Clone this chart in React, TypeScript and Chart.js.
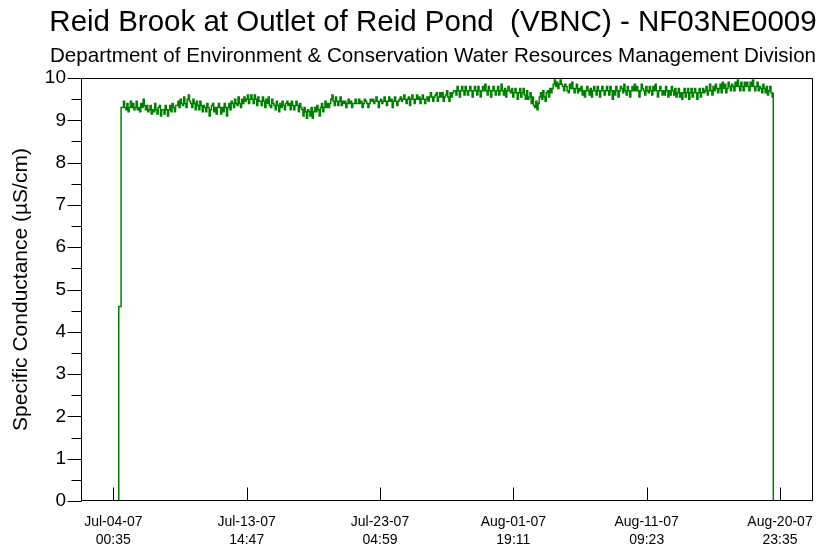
import React, { useEffect, useRef } from "react";
import { Chart, registerables } from "chart.js";

Chart.register(...registerables);

const FONT = "'Liberation Sans', Arial, Helvetica, sans-serif";

const TITLE = "Reid Brook at Outlet of Reid Pond  (VBNC) - NF03NE0009";
const SUBTITLE = "Department of Environment & Conservation Water Resources Management Division";
const Y_TITLE = "Specific Conductance (µS/cm)";

// x-axis tick positions (UTC ms) and their two-line labels
const xTickTimes = [
  Date.UTC(2007, 6, 4, 0, 35),
  Date.UTC(2007, 6, 13, 14, 47),
  Date.UTC(2007, 6, 23, 4, 59),
  Date.UTC(2007, 7, 1, 19, 11),
  Date.UTC(2007, 7, 11, 9, 23),
  Date.UTC(2007, 7, 20, 23, 35),
];
const xTickDates = ["Jul-04-07", "Jul-13-07", "Jul-23-07", "Aug-01-07", "Aug-11-07", "Aug-20-07"];
const xTickClock = ["00:35", "14:47", "04:59", "19:11", "09:23", "23:35"];
const xMin = Date.UTC(2007, 6, 1, 16, 47);
const xMax = Date.UTC(2007, 7, 23, 8, 35);

// y-axis ticks
const yMajorTicks = [0, 1, 2, 3, 4, 5, 6, 7, 8, 9, 10];
const yMinorTicks = [0.5, 1.5, 2.5, 3.5, 4.5, 5.5, 6.5, 7.5, 8.5, 9.5];

// deployment: logger switched on, sensor settling, then 2-hourly readings
const onsetTimes = [Date.UTC(2007, 6, 4, 10, 0), Date.UTC(2007, 6, 4, 10, 0)];
const onsetValues = [0, 4.6];
const seriesStart = Date.UTC(2007, 6, 4, 14, 0);
const stepHours = 2;
const removalTime = Date.UTC(2007, 7, 20, 12, 0);
const removalValue = 0;

// specific conductance, µS/cm, one row per 24 h from Jul-04 14:00
const conductance = [
  9.30, 9.30, 9.45, 9.30, 9.25, 9.40, 9.20, 9.30, 9.45, 9.30, 9.40, 9.25,
  9.30, 9.45, 9.25, 9.30, 9.20, 9.40, 9.30, 9.50, 9.35, 9.25, 9.35, 9.20,
  9.25, 9.35, 9.15, 9.25, 9.20, 9.40, 9.25, 9.15, 9.30, 9.35, 9.10, 9.25,
  9.25, 9.15, 9.35, 9.25, 9.10, 9.25, 9.35, 9.20, 9.40, 9.30, 9.20, 9.35,
  9.35, 9.45, 9.30, 9.50, 9.40, 9.35, 9.55, 9.40, 9.30, 9.50, 9.60, 9.45,
  9.40, 9.30, 9.50, 9.40, 9.25, 9.45, 9.35, 9.25, 9.45, 9.35, 9.20, 9.35,
  9.30, 9.20, 9.40, 9.30, 9.10, 9.25, 9.35, 9.40, 9.20, 9.30, 9.15, 9.30,
  9.40, 9.30, 9.15, 9.30, 9.20, 9.40, 9.30, 9.10, 9.30, 9.40, 9.25, 9.45,
  9.40, 9.30, 9.50, 9.40, 9.35, 9.55, 9.40, 9.30, 9.50, 9.40, 9.55, 9.45,
  9.50, 9.60, 9.40, 9.50, 9.60, 9.50, 9.40, 9.60, 9.50, 9.35, 9.55, 9.45,
  9.45, 9.35, 9.55, 9.45, 9.30, 9.50, 9.40, 9.55, 9.35, 9.30, 9.50, 9.40,
  9.35, 9.25, 9.45, 9.35, 9.20, 9.40, 9.30, 9.45, 9.35, 9.25, 9.40, 9.45,
  9.35, 9.40, 9.25, 9.45, 9.35, 9.25, 9.35, 9.45, 9.35, 9.20, 9.40, 9.30,
  9.25, 9.10, 9.30, 9.20, 9.05, 9.25, 9.20, 9.10, 9.30, 9.05, 9.20, 9.30,
  9.20, 9.35, 9.25, 9.10, 9.30, 9.40, 9.20, 9.30, 9.45, 9.30, 9.40, 9.30,
  9.40, 9.50, 9.60, 9.45, 9.35, 9.55, 9.45, 9.35, 9.45, 9.55, 9.35, 9.45,
  9.40, 9.45, 9.30, 9.40, 9.50, 9.40, 9.45, 9.30, 9.40, 9.40, 9.50, 9.40,
  9.40, 9.50, 9.40, 9.45, 9.30, 9.40, 9.50, 9.45, 9.40, 9.30, 9.40, 9.50,
  9.45, 9.50, 9.40, 9.45, 9.55, 9.45, 9.30, 9.45, 9.50, 9.40, 9.45, 9.55,
  9.45, 9.35, 9.45, 9.55, 9.45, 9.50, 9.30, 9.45, 9.55, 9.45, 9.35, 9.45,
  9.50, 9.55, 9.45, 9.50, 9.60, 9.50, 9.40, 9.50, 9.55, 9.35, 9.50, 9.60,
  9.50, 9.40, 9.50, 9.60, 9.50, 9.55, 9.40, 9.50, 9.60, 9.50, 9.40, 9.50,
  9.55, 9.45, 9.55, 9.65, 9.55, 9.45, 9.55, 9.60, 9.65, 9.45, 9.55, 9.65,
  9.55, 9.65, 9.45, 9.55, 9.60, 9.70, 9.55, 9.45, 9.65, 9.55, 9.65, 9.70,
  9.70, 9.60, 9.80, 9.70, 9.55, 9.70, 9.80, 9.70, 9.60, 9.80, 9.70, 9.60,
  9.70, 9.80, 9.70, 9.55, 9.70, 9.80, 9.70, 9.60, 9.80, 9.70, 9.55, 9.70,
  9.80, 9.70, 9.85, 9.70, 9.60, 9.80, 9.70, 9.55, 9.70, 9.80, 9.70, 9.60,
  9.70, 9.80, 9.60, 9.70, 9.85, 9.70, 9.60, 9.75, 9.55, 9.70, 9.80, 9.70,
  9.65, 9.75, 9.55, 9.65, 9.75, 9.65, 9.50, 9.65, 9.75, 9.55, 9.65, 9.75,
  9.60, 9.50, 9.70, 9.50, 9.55, 9.65, 9.40, 9.55, 9.35, 9.30, 9.45, 9.25,
  9.40, 9.55, 9.65, 9.50, 9.70, 9.55, 9.45, 9.65, 9.70, 9.55, 9.75, 9.65,
  9.75, 9.85, 9.95, 9.80, 9.90, 9.75, 9.85, 9.95, 9.85, 9.80, 9.70, 9.85,
  9.80, 9.70, 9.65, 9.85, 9.75, 9.90, 9.75, 9.65, 9.75, 9.85, 9.65, 9.75,
  9.70, 9.80, 9.60, 9.70, 9.55, 9.70, 9.80, 9.70, 9.60, 9.75, 9.55, 9.70,
  9.80, 9.70, 9.60, 9.80, 9.70, 9.55, 9.70, 9.80, 9.70, 9.60, 9.70, 9.80,
  9.70, 9.60, 9.80, 9.70, 9.50, 9.70, 9.60, 9.80, 9.70, 9.55, 9.70, 9.80,
  9.75, 9.65, 9.85, 9.70, 9.60, 9.80, 9.70, 9.55, 9.70, 9.80, 9.70, 9.85,
  9.70, 9.80, 9.70, 9.55, 9.70, 9.85, 9.75, 9.70, 9.60, 9.80, 9.70, 9.65,
  9.80, 9.70, 9.60, 9.80, 9.70, 9.85, 9.70, 9.55, 9.70, 9.80, 9.70, 9.60,
  9.70, 9.60, 9.80, 9.70, 9.55, 9.70, 9.60, 9.80, 9.70, 9.60, 9.75, 9.55,
  9.65, 9.75, 9.55, 9.65, 9.50, 9.65, 9.75, 9.55, 9.65, 9.75, 9.50, 9.65,
  9.75, 9.55, 9.65, 9.75, 9.65, 9.50, 9.65, 9.75, 9.55, 9.65, 9.75, 9.65,
  9.70, 9.80, 9.60, 9.70, 9.85, 9.70, 9.60, 9.80, 9.70, 9.85, 9.75, 9.65,
  9.75, 9.85, 9.65, 9.90, 9.75, 9.85, 9.65, 9.75, 9.90, 9.80, 9.70, 9.85,
  9.80, 9.70, 9.90, 9.80, 9.95, 9.80, 9.70, 9.90, 9.80, 9.70, 9.90, 9.80,
  9.90, 9.80, 9.70, 9.90, 9.80, 9.95, 9.80, 9.70, 9.80, 9.90, 9.70, 9.80,
  9.75, 9.65, 9.85, 9.75, 9.65, 9.80, 9.60, 9.70, 9.80, 9.65, 9.55, 9.65,
];

function buildPoints() {
  const pts: { x: number; y: number }[] = [];
  onsetTimes.forEach((t, i) => pts.push({ x: t, y: onsetValues[i] }));
  conductance.forEach((v, i) => pts.push({ x: seriesStart + i * stepHours * 3600000, y: v }));
  pts.push({ x: removalTime, y: removalValue });
  return pts;
}

// frame, tick marks and headings
const decorPlugin = {
  id: "decor",
  afterDatasetsDraw(chart: any) {
    const { ctx, chartArea: a, scales } = chart;
    const xs = scales.x;
    const ys = scales.y;
    const L = Math.round(a.left) + 0.5;
    const R = Math.round(a.right) - 0.5;
    const T = Math.round(a.top) + 0.5;
    const B = Math.round(a.bottom) - 0.5;
    ctx.save();
    ctx.strokeStyle = "#000";
    ctx.lineWidth = 1;
    ctx.strokeRect(L, T, R - L, B - T);
    ctx.beginPath();
    yMajorTicks.forEach((v) => {
      const py = Math.round(ys.getPixelForValue(v)) + 0.5;
      ctx.moveTo(L - 14, py);
      ctx.lineTo(L, py);
    });
    yMinorTicks.forEach((v) => {
      const py = Math.round(ys.getPixelForValue(v)) + 0.5;
      ctx.moveTo(L - 10, py);
      ctx.lineTo(L, py);
    });
    xTickTimes.forEach((t) => {
      const px = Math.round(xs.getPixelForValue(t)) + 0.5;
      ctx.moveTo(px, B);
      ctx.lineTo(px, B - 13);
    });
    ctx.stroke();
    ctx.restore();
  },
  afterDraw(chart: any) {
    const { ctx } = chart;
    ctx.save();
    ctx.fillStyle = "#000";
    ctx.textAlign = "center";
    ctx.textBaseline = "alphabetic";
    ctx.font = `29.5px ${FONT}`;
    ctx.fillText(TITLE, 433, 31);
    ctx.font = `20.6px ${FONT}`;
    ctx.fillText(SUBTITLE, 433, 62);
    ctx.restore();
  },
};

export default function App() {
  const canvasRef = useRef<HTMLCanvasElement | null>(null);

  useEffect(() => {
    const canvas = canvasRef.current;
    if (!canvas) return;
    const chart = new Chart(canvas, {
      type: "line",
      data: {
        datasets: [
          {
            data: buildPoints(),
            borderColor: "#008000",
            borderWidth: 1.5,
            pointRadius: 0,
            stepped: true,
            fill: false,
          },
        ],
      },
      options: {
        responsive: false,
        animation: false,
        layout: { padding: { top: 78, right: 6, left: 0, bottom: 0 } },
        plugins: {
          legend: { display: false },
          title: { display: false },
          tooltip: { enabled: false },
        },
        scales: {
          x: {
            type: "linear",
            min: xMin,
            max: xMax,
            grid: { display: false, drawTicks: false, tickLength: 0 },
            border: { display: false },
            afterBuildTicks: (scale: any) => {
              scale.ticks = xTickTimes.map((value) => ({ value }));
            },
            afterFit: (scale: any) => {
              scale.height = 47;
              scale.paddingLeft = 0;
              scale.paddingRight = 0;
            },
            ticks: {
              autoSkip: false,
              maxRotation: 0,
              minRotation: 0,
              padding: 12,
              color: "#000",
              font: { family: FONT, size: 14, lineHeight: 1.3 },
              callback: (_v: any, i: number) => [xTickDates[i], xTickClock[i]],
            },
          },
          y: {
            min: 0,
            max: 10,
            grid: { display: false, drawTicks: false, tickLength: 0 },
            border: { display: false },
            afterFit: (scale: any) => {
              scale.width = 81;
              scale.paddingTop = 0;
              scale.paddingBottom = 0;
            },
            ticks: {
              stepSize: 1,
              padding: 15,
              color: "#000",
              font: { family: FONT, size: 19 },
            },
            title: {
              display: true,
              text: Y_TITLE,
              color: "#000",
              font: { family: FONT, size: 21 },
              padding: { top: 9, bottom: 0 },
            },
          },
        },
      },
      plugins: [decorPlugin],
    });
    return () => chart.destroy();
  }, []);

  return (
    <div style={{ position: "fixed", left: 0, top: 0, width: 819, height: 548, background: "#fff" }}>
      <canvas ref={canvasRef} width={819} height={548} />
    </div>
  );
}
